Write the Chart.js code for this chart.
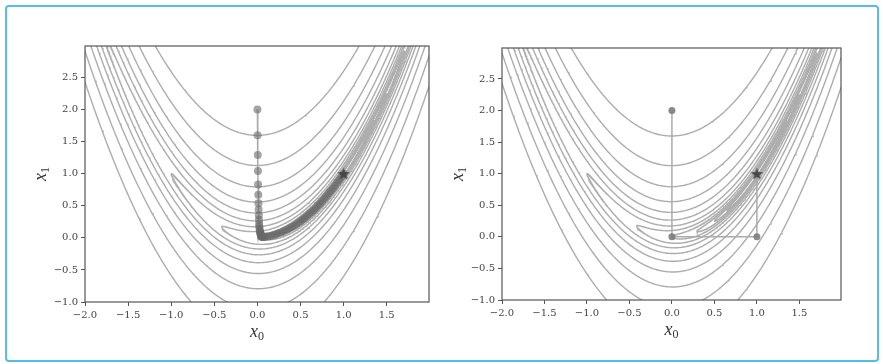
<!DOCTYPE html>
<html>
<head>
<meta charset="utf-8">
<script src="https://cdn.jsdelivr.net/npm/chart.js@4.4.1/dist/chart.umd.min.js"></script>
<style>
  html, body { margin: 0; padding: 0; background: #fff; }
  #frame { position: absolute; left: 5px; top: 5px; width: 870px; height: 353px;
           border: 2px solid #55bde6; border-radius: 4px; }
  canvas { position: absolute; top: 0; }
</style>
</head>
<body>
<div id="frame"></div>
<canvas id="left" width="441" height="364" style="left:0px"></canvas>
<canvas id="right" width="442" height="364" style="left:441px"></canvas>
<script>
/* global Chart */

// contour levels of the Rosenbrock surface, read where the curves cross x0 = 0
const LEVELS = [0.125, 0.25, 0.5, 1, 2, 4, 8, 16, 32, 64, 128, 256];
const X_TICKS = [-2.0, -1.5, -1.0, -0.5, 0.0, 0.5, 1.0, 1.5];
const Y_TICKS = [-1.0, -0.5, 0.0, 0.5, 1.0, 1.5, 2.0, 2.5];
const X_RANGE = [-2, 1.99];
const Y_RANGE = [-1, 2.99];

// left panel: gradient descent iterates
const GD_X0 = [0, 0.002, 0.004, 0.006, 0.008, 0.01, 0.012, 0.014, 0.016, 0.018, 0.02, 0.022, 0.025,
  0.028, 0.031, 0.034, 0.037, 0.04, 0.043, 0.046, 0.05, 0.054, 0.058,
  0.065, 0.08, 0.1, 0.125, 0.15, 0.175, 0.2, 0.225, 0.25, 0.275, 0.3, 0.325, 0.35, 0.375, 0.4,
  0.425, 0.45, 0.475, 0.5, 0.525, 0.55, 0.575, 0.6, 0.625, 0.65, 0.675, 0.7, 0.725, 0.75, 0.775,
  0.8, 0.825, 0.85, 0.875, 0.9, 0.925, 0.95, 0.975, 1.0];
const GD_X1 = [2.0, 1.6, 1.29, 1.04, 0.83, 0.67, 0.54, 0.44, 0.35, 0.28, 0.22, 0.18, 0.14,
  0.11, 0.09, 0.07, 0.055, 0.045, 0.035, 0.028, 0.022, 0.017, 0.013,
  0.012, 0.015, 0.02, 0.025, 0.03, 0.04, 0.05, 0.06, 0.075, 0.085, 0.1, 0.115, 0.13, 0.15, 0.17,
  0.19, 0.21, 0.235, 0.26, 0.285, 0.31, 0.34, 0.37, 0.4, 0.43, 0.46, 0.5, 0.53, 0.57, 0.61,
  0.65, 0.69, 0.73, 0.77, 0.81, 0.86, 0.9, 0.95, 1.0];

// right panel: the few large steps
const STEP_X0 = [0, 0, 1, 1];
const STEP_X1 = [2, 0, 0, 1];

const OPTIMUM = [1, 1];

const pts = (xs, ys) => xs.map((x, i) => ({ x: x, y: ys[i] }));

// one branch (upper or lower) of the level curve f(x0, x1) = level
function contourBranch(level, upper) {
  const s = Math.sqrt(level);
  const tA = Math.acos(Math.min(1, 3.05 / s));
  const tB = Math.acos(Math.max(-1, -1.05 / s));
  const out = [];
  const n = 360;
  for (let i = 0; i <= n; i++) {
    let t = tA + (tB - tA) * i / n;
    if (!upper) t = 2 * Math.PI - t;
    const x0 = 1 - s * Math.cos(t);
    out.push({ x: x0, y: x0 * x0 + s * Math.sin(t) / 10 });
  }
  return out;
}

function starImage(size, color) {
  const c = document.createElement('canvas');
  c.width = c.height = size;
  const g = c.getContext('2d');
  g.fillStyle = color;
  g.beginPath();
  for (let i = 0; i < 10; i++) {
    const r = i % 2 ? size * 0.21 : size / 2;
    const a = -Math.PI / 2 + i * Math.PI / 5;
    g.lineTo(size / 2 + r * Math.cos(a), size / 2 + 0.6 + r * Math.sin(a));
  }
  g.closePath();
  g.fill();
  return c;
}

const SERIF = '"Liberation Serif", "DejaVu Serif", serif';
const TICK_FONT = '"DejaVu Serif", serif';
const fmt = (v) => v.toFixed(1).replace('-', '\u2212');

function drawSub(ctx, base, sub, cx, cy) {
  ctx.font = 'italic 18px ' + SERIF;
  const w1 = ctx.measureText(base).width;
  ctx.font = '12px ' + SERIF;
  const w2 = ctx.measureText(sub).width;
  const x = cx - (w1 + w2) / 2;
  ctx.textAlign = 'left';
  ctx.textBaseline = 'alphabetic';
  ctx.font = 'italic 18px ' + SERIF;
  ctx.fillText(base, x, cy);
  ctx.font = '12px ' + SERIF;
  ctx.fillText(sub, x + w1, cy + 3);
}

const frameAndTitles = {
  id: 'frameAndTitles',
  afterDraw(chart) {
    const ctx = chart.ctx;
    const a = chart.chartArea;
    ctx.save();
    ctx.strokeStyle = '#555';
    ctx.lineWidth = 1.2;
    ctx.strokeRect(a.left, a.top, a.right - a.left, a.bottom - a.top);
    ctx.fillStyle = '#333';
    drawSub(ctx, 'x', '0', (a.left + a.right) / 2, a.bottom + 35);
    ctx.translate(a.left - 39, (a.top + a.bottom) / 2);
    ctx.rotate(-Math.PI / 2);
    drawSub(ctx, 'x', '1', 0, 0);
    ctx.restore();
  }
};

function makePanel(id, canvasLeft, canvasWidth, area, pathData, dotData, dotStyle) {
  const datasets = [];
  datasets.push({
    data: [{ x: OPTIMUM[0], y: OPTIMUM[1] }],
    pointStyle: starImage(13, '#474747'),
    pointRadius: 7,
    showLine: false,
    order: 0
  });
  datasets.push({
    data: dotData,
    showLine: false,
    pointRadius: dotStyle.radius,
    pointBackgroundColor: dotStyle.color,
    pointBorderWidth: 0,
    order: 1
  });
  datasets.push({
    data: pathData,
    showLine: true,
    borderColor: '#ababab',
    borderWidth: 1.5,
    pointRadius: 0,
    order: 2
  });
  LEVELS.forEach((lv) => {
    [true, false].forEach((up) => {
      datasets.push({
        data: contourBranch(lv, up),
        showLine: true,
        borderColor: '#adadad',
        borderWidth: 1.4,
        pointRadius: 0,
        order: 10
      });
    });
  });

  const yWidth = area.left - canvasLeft;
  const xHeight = 364 - area.bottom;

  return new Chart(document.getElementById(id), {
    type: 'scatter',
    data: { datasets: datasets },
    options: {
      responsive: false,
      animation: false,
      events: [],
      layout: {
        padding: { left: 0, top: area.top, right: canvasLeft + canvasWidth - area.right, bottom: 0 }
      },
      plugins: {
        legend: { display: false },
        tooltip: { enabled: false }
      },
      scales: {
        x: {
          type: 'linear',
          min: X_RANGE[0],
          max: X_RANGE[1],
          afterBuildTicks: (s) => { s.ticks = X_TICKS.map((v) => ({ value: v })); },
          afterFit: (s) => { s.height = xHeight; },
          border: { display: false },
          grid: { drawOnChartArea: false, tickLength: 4, color: '#555', lineWidth: 1 },
          ticks: {
            autoSkip: false,
            maxRotation: 0,
            padding: 3,
            color: '#444',
            font: { family: TICK_FONT, size: 10 },
            callback: (v) => fmt(v)
          }
        },
        y: {
          type: 'linear',
          min: Y_RANGE[0],
          max: Y_RANGE[1],
          afterBuildTicks: (s) => { s.ticks = Y_TICKS.map((v) => ({ value: v })); },
          afterFit: (s) => { s.width = yWidth; },
          border: { display: false },
          grid: { drawOnChartArea: false, tickLength: 4, color: '#555', lineWidth: 1 },
          ticks: {
            autoSkip: false,
            padding: 3,
            color: '#444',
            font: { family: TICK_FONT, size: 10 },
            callback: (v) => fmt(v)
          }
        }
      }
    },
    plugins: [frameAndTitles]
  });
}

const gdPoints = pts(GD_X0, GD_X1);
makePanel('left', 0, 441, { left: 85, right: 429, top: 46, bottom: 302 },
  gdPoints, gdPoints, { radius: 4, color: 'rgba(105,105,105,0.6)' });

const stepPoints = pts(STEP_X0, STEP_X1);
makePanel('right', 441, 442, { left: 502, right: 841, top: 48, bottom: 300 },
  stepPoints, stepPoints.slice(0, 3), { radius: 3.5, color: 'rgba(125,125,125,0.9)' });
</script>
</body>
</html>
